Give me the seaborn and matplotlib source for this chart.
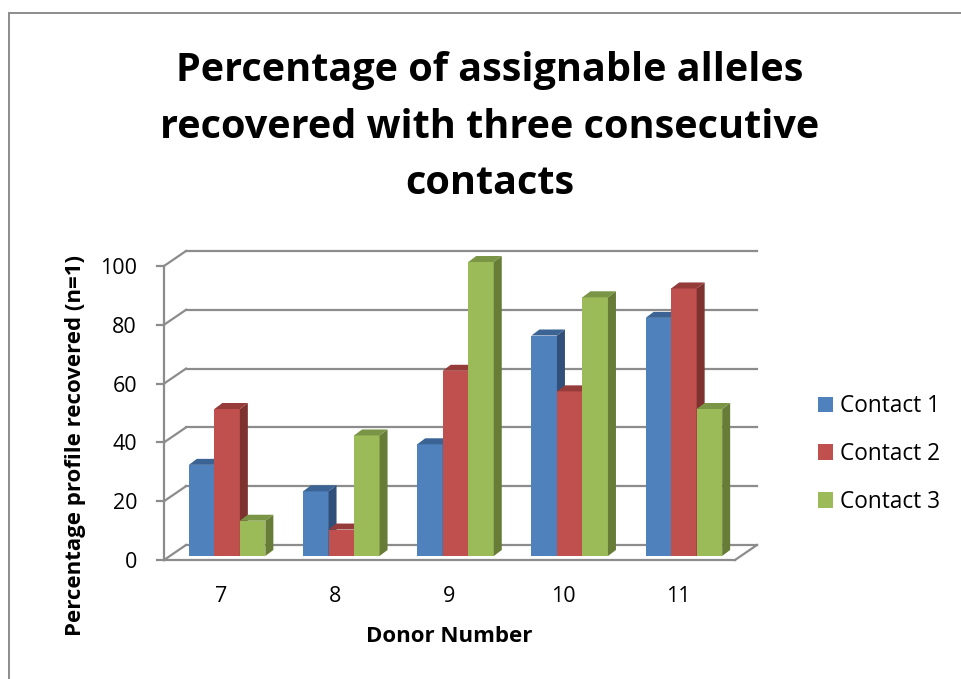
import numpy as np
import pandas as pd
import matplotlib
matplotlib.use("Agg")
import matplotlib.pyplot as plt
from matplotlib.patches import Polygon, Patch, Rectangle
import seaborn as sns

# ---- data ----
donors = ["7", "8", "9", "10", "11"]
contact_1 = [31, 22, 38, 75, 81]
contact_2 = [50, 9, 63, 56, 91]
contact_3 = [12, 41, 100, 88, 50]
series_names = ["Contact 1", "Contact 2", "Contact 3"]
y_ticks = [0, 20, 40, 60, 80, 100]

title = "Percentage of assignable alleles\nrecovered with three consecutive\ncontacts"
x_title = "Donor Number"
y_title = "Percentage profile recovered (n=1)"

df = pd.DataFrame({
    "Donor": donors * 3,
    "Percent": contact_1 + contact_2 + contact_3,
    "Contact": np.repeat(series_names, len(donors)),
})

# ---- style ----
front_colors = ["#4F81BD", "#C0504D", "#9BBB59"]
top_colors = ["#3B6494", "#953C3A", "#7A9545"]
side_colors = ["#30507A", "#7E3230", "#677C37"]
line_grey = "#8C8C8C"

W, H, DPI = 961, 679, 100
sns.set_style("white")
plt.rcParams["font.family"] = ["Open Sans", "DejaVu Sans"]
plt.rcParams["text.color"] = "black"

fig = plt.figure(figsize=(W / DPI, H / DPI), dpi=DPI)

# background layer in image pixel coordinates for the 3-D frame
bg = fig.add_axes([0, 0, 1, 1], zorder=0)
bg.set_xlim(0, W)
bg.set_ylim(H, 0)
bg.axis("off")

# plot area (bar plane) in pixels
left_px, right_px, bottom_px, top_px = 170, 741, 556, 262
ax = fig.add_axes([left_px / W, 1 - bottom_px / H,
                   (right_px - left_px) / W, (bottom_px - top_px) / H],
                  zorder=1)

sns.barplot(data=df, x="Donor", y="Percent", hue="Contact",
            order=donors, hue_order=series_names, palette=front_colors,
            width=0.67, saturation=1, ax=ax, legend=False,
            edgecolor="none", linewidth=0)
ax.set_xlim(-0.5, len(donors) - 0.5)
ax.set_ylim(0, 100)
for s in ax.spines.values():
    s.set_visible(False)
ax.set_xticks([])
ax.set_yticks([])
ax.set_xlabel("")
ax.set_ylabel("")
ax.patch.set_alpha(0)

x0, x1 = ax.get_xlim()


def to_px(x, y):
    """Data point of the bar plane -> image pixel (x right, y down)."""
    dx, dy = ax.transData.transform((x, y))
    return dx, H - dy


BACK = (16, -11)    # back wall relative to the bar plane
FRONT = (-6, 4)     # front edge relative to the bar plane


def plane(x, y, off):
    px, py = to_px(x, y)
    return px + off[0], py + off[1]


# bar depth in data units (8 px right, 6 px up)
px_x = (right_px - left_px) / (x1 - x0)
px_y = (bottom_px - top_px) / 100.0
ddx, ddy = 8 / px_x, 6 / px_y

# ---- 3-D faces on each bar ----
for j, cont in enumerate(ax.containers):
    for bar in cont:
        bx, bw, bh = bar.get_x(), bar.get_width(), bar.get_height()
        z = 3 + j
        bar.set_zorder(z)
        side = Polygon([(bx + bw, 0), (bx + bw + ddx, ddy),
                        (bx + bw + ddx, bh + ddy), (bx + bw, bh)],
                       closed=True, facecolor=side_colors[j],
                       edgecolor="none", zorder=z, clip_on=False)
        top = Polygon([(bx, bh), (bx + bw, bh),
                       (bx + bw + ddx, bh + ddy), (bx + ddx, bh + ddy)],
                      closed=True, facecolor=top_colors[j],
                      edgecolor="none", zorder=z, clip_on=False)
        ax.add_patch(side)
        ax.add_patch(top)

# ---- walls, floor and value axis ----
lw = 1.6
kw = dict(color=line_grey, lw=lw, solid_capstyle="projecting")
for v in y_ticks:
    bl = plane(x0, v, BACK)
    br = plane(x1, v, BACK)
    fl = plane(x0, v, FRONT)
    bg.plot([bl[0], br[0]], [bl[1], br[1]], **kw)
    bg.plot([fl[0], bl[0]], [fl[1], bl[1]], **kw)
    bg.plot([fl[0] - 7, fl[0]], [fl[1], fl[1]], **kw)
    bg.text(fl[0] - 27, fl[1], str(v), ha="right", va="center_baseline",
            fontsize=15.5)

f_bot = plane(x0, 0, FRONT)
f_top = plane(x0, 100, FRONT)
f_right = plane(x1, 0, FRONT)
b_right = plane(x1, 0, BACK)
bg.plot([f_bot[0], f_top[0]], [f_bot[1], f_top[1]], **kw)
bg.plot([f_bot[0], f_right[0]], [f_bot[1], f_right[1]], **kw)
bg.plot([f_right[0], b_right[0]], [f_right[1], b_right[1]], **kw)

# category labels along the front edge
for i, d in enumerate(donors):
    px, py = plane(i, 0, FRONT)
    bg.text(px, py + 34, d, ha="center", va="center_baseline",
            fontsize=15.5)

# ---- titles ----
fig.text(490 / W, 1 - 127 / H, title, ha="center", va="center",
         fontsize=28.5, fontweight="bold", linespacing=1.6)
fig.text(449 / W, 1 - 636 / H, x_title, ha="center", va="center",
         fontsize=16, fontweight="bold")
fig.text(76 / W, 1 - 445 / H, y_title, ha="center", va="center",
         rotation=90, fontsize=16, fontweight="bold")

# ---- legend ----
handles = [Patch(facecolor=c, edgecolor="none") for c in front_colors]
fig.legend(handles, series_names, loc="center left",
           bbox_to_anchor=(818 / W, 1 - 454 / H), frameon=False,
           fontsize=16.3, handlelength=0.67, handleheight=0.67,
           handletextpad=0.3, labelspacing=1.05, borderpad=0,
           borderaxespad=0)

# outer chart border
fig.add_artist(Rectangle((9 / W, -0.01), 1.0, 1 - 13 / H + 0.01,
                         transform=fig.transFigure, fill=False,
                         edgecolor=line_grey, lw=1.4))

fig.savefig("out.png", dpi=DPI, facecolor="white")
